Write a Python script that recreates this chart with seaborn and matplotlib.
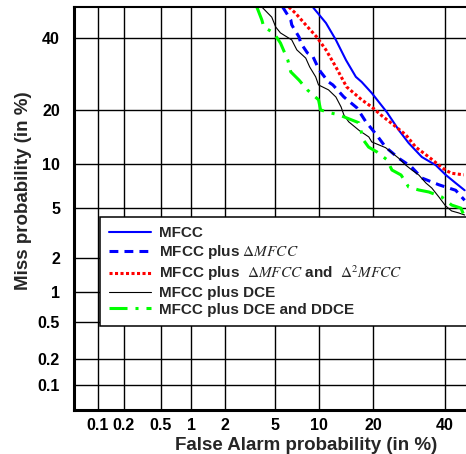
import math
import numpy as np
import matplotlib
matplotlib.use('Agg')
import matplotlib.pyplot as plt
import seaborn as sns

# DET curves, values in percent: false alarm (x) / miss (y)
mfcc_fa = [9.1, 11.0, 12.6, 14.4, 16.3, 17.5, 19.7, 23.3, 26.4, 29.1, 32.9, 37.1, 40.2, 43.4, 46.3]
mfcc_miss = [50.0, 44.8, 39.4, 33.2, 28.4, 27.0, 24.1, 19.5, 15.7, 13.3, 11.0, 9.8, 8.5, 7.5, 6.7]

delta_fa = [5.7, 6.5, 6.6, 7.4, 7.6, 8.4, 9.1, 9.7, 10.2, 11.4, 12.1, 14.0, 16.5, 18.4, 20.6, 23.0, 26.4, 29.8, 32.9, 38.1, 43.4, 46.3]
delta_miss = [50.0, 45.8, 44.2, 40.3, 38.4, 35.4, 34.4, 31.6, 29.8, 27.0, 26.2, 23.1, 20.5, 17.4, 15.0, 12.6, 10.8, 9.6, 8.1, 7.3, 6.7, 5.7]

delta2_fa = [6.3, 7.0, 8.2, 9.65, 11.0, 12.6, 14.5, 17.5, 19.7, 21.8, 25.1, 28.3, 31.1, 35.0, 38.1, 40.2, 42.1, 46.0]
delta2_miss = [50.0, 48.0, 44.2, 40.3, 36.3, 31.2, 25.7, 22.4, 20.7, 18.9, 16.7, 14.8, 12.6, 11.0, 9.8, 9.1, 8.7, 8.5]

dce_fa = [4.0, 4.75, 5.08, 5.5, 6.6, 7.15, 8.2, 8.7, 9.5, 9.9, 11.4, 12.6, 13.5, 14.0, 14.9, 16.9, 19.05, 19.7,
          23.0, 26.4, 28.3, 30.0, 32.0, 34.1, 35.9, 38.1, 40.2, 42.1, 44.4, 46.3]
dce_miss = [50.0, 46.7, 43.5, 41.6, 39.4, 36.3, 33.8, 31.2, 28.4, 26.2, 24.9, 23.1, 20.7, 18.9, 17.4, 15.7, 14.4, 13.5,
            12.5, 10.8, 9.8, 9.13, 8.48, 7.51, 6.94, 6.01, 5.19, 4.77, 4.61, 4.45]

ddce_fa = [3.66, 4.0, 4.14, 4.92, 5.5, 6.2, 6.5, 7.4, 8.4, 9.9, 10.2, 11.8, 13.1, 16.9, 17.9, 19.0, 20.9, 23.3,
           24.6, 27.0, 29.1, 32.0, 35.0, 39.0, 42.1, 45.1, 46.3]
ddce_miss = [50.0, 45.8, 43.5, 41.6, 38.4, 33.2, 29.8, 27.5, 24.9, 22.4, 20.0, 19.3, 18.9, 17.2, 13.8, 12.6, 11.8, 10.6,
             9.13, 8.48, 7.05, 6.73, 6.52, 6.01, 5.27, 5.0, 4.3]

det_ticks = [0.1, 0.2, 0.5, 1, 2, 5, 10, 20, 40]
det_tick_labels = ['0.1', '0.2', '0.5', '1', '2', '5', '10', '20', '40']

# normal deviate (probit) scale used by DET plots
_erf = np.vectorize(math.erf, otypes=[float])


def pct_to_dev(p):
    p = np.clip(np.asarray(p, dtype=float) / 100.0, 1e-9, 1 - 1e-9)
    lo = np.full_like(p, -8.0)
    hi = np.full_like(p, 8.0)
    for _ in range(50):
        mid = (lo + hi) / 2
        below = 0.5 * (1 + _erf(mid / math.sqrt(2))) < p
        lo = np.where(below, mid, lo)
        hi = np.where(below, hi, mid)
    return (lo + hi) / 2


def dev_to_pct(z):
    return 100 * 0.5 * (1 + _erf(np.asarray(z, dtype=float) / math.sqrt(2)))


sns.set_style('white')
plt.rcParams['font.family'] = ['Liberation Sans', 'DejaVu Sans']
plt.rcParams['mathtext.fontset'] = 'stix'

fig = plt.figure(figsize=(4.66, 4.54), dpi=100)
ax = fig.add_axes([74 / 466, 44 / 454, 402 / 466, 403 / 454])

common = dict(ax=ax, sort=False, estimator=None, errorbar=None)
sns.lineplot(x=mfcc_fa, y=mfcc_miss, color='#0000FF', linewidth=1.5, linestyle='-',
             label='MFCC', **common)
sns.lineplot(x=delta_fa, y=delta_miss, color='#0000FF', linewidth=2.2, linestyle=(0, (2.9, 2.0)),
             label=r'MFCC plus $\Delta MFCC$', **common)
sns.lineplot(x=delta2_fa, y=delta2_miss, color='#FF0000', linewidth=2.2, linestyle=(0, (1, 0.8)),
             label=r'MFCC plus  $\Delta MFCC$ and  $\Delta^2 MFCC$', **common)
sns.lineplot(x=dce_fa, y=dce_miss, color='black', linewidth=0.8, linestyle='-',
             label='MFCC plus DCE', **common)
sns.lineplot(x=ddce_fa, y=ddce_miss, color='#00FF00', linewidth=2.2, linestyle=(0, (5.9, 2.6, 1, 2.6)),
             label='MFCC plus DCE and DDCE', **common)

ax.set_xscale('function', functions=(pct_to_dev, dev_to_pct))
ax.set_yscale('function', functions=(pct_to_dev, dev_to_pct))
ax.set_xlim(0.0508, 50)
ax.set_ylim(0.0492, 50)
ax.set_xticks(det_ticks)
ax.set_xticklabels(det_tick_labels, fontweight='bold')
ax.set_yticks(det_ticks)
ax.set_yticklabels(det_tick_labels, fontweight='bold')
ax.tick_params(axis='both', length=0, labelsize=11.5, colors='black')
ax.tick_params(axis='x', pad=6)
ax.tick_params(axis='y', pad=10)

ax.grid(True, color='black', linewidth=1.0)
ax.set_axisbelow(True)
for side in ['left', 'bottom']:
    ax.spines[side].set_linewidth(2.2)
    ax.spines[side].set_color('black')
ax.spines['top'].set_linewidth(1.5)
ax.spines['top'].set_color('black')
ax.spines['right'].set_visible(False)

ax.set_xlabel('False Alarm probability (in %)', fontsize=13.5, fontweight='bold')
ax.set_ylabel('Miss probability (in %)', fontsize=13.5, fontweight='bold')
ax.xaxis.set_label_coords(0.577, -0.068)
ax.yaxis.set_label_coords(-0.105, 0.543)

leg = ax.legend(loc='upper left', bbox_to_anchor=(0.0647, 0.19, 1.2, 0.289), mode='expand',
                prop={'weight': 'bold', 'size': 11}, handlelength=2.75, handletextpad=0.5,
                borderpad=0.6, labelspacing=0.18, fancybox=False, framealpha=1,
                edgecolor='black', borderaxespad=0)
leg.get_frame().set_linewidth(1.1)

plt.savefig('out.png', dpi=100)
plt.close()
